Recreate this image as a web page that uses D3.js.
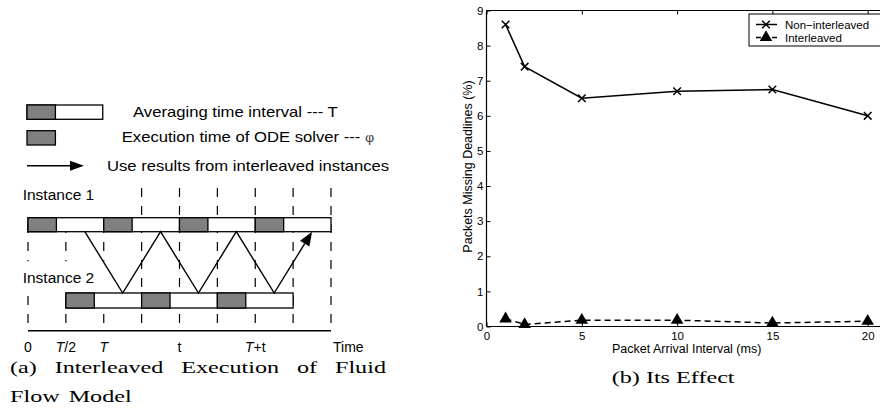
<!DOCTYPE html>
<html>
<head>
<meta charset="utf-8">
<script src="https://cdn.jsdelivr.net/npm/d3@7"></script>
<style>
body { margin: 0; background: #fff; }
svg { display: block; }
text { font-family: "Liberation Sans", Arial, Helvetica, sans-serif; }
text.cap { font-family: "Liberation Serif", "Times New Roman", serif; }
</style>
</head>
<body>
<script>
// ---- data for panel (b) ----
var intervals = [1, 2, 5, 10, 15, 20];
var nonInterleaved = [8.6, 7.4, 6.5, 6.7, 6.75, 6.0];
var interleaved = [0.22, 0.06, 0.18, 0.18, 0.10, 0.15];
var xTicks = [0, 5, 10, 15, 20];
var yTicks = [0, 1, 2, 3, 4, 5, 6, 7, 8, 9];
var seriesNames = ["Non\u2212interleaved", "Interleaved"];

// ---- data for panel (a), time measured in units of T/2 ----
var gridTimes = [0, 1, 2, 3, 4, 5, 6, 7, 8];
var labelTimes = [0, 1, 2, 4, 6, 8];
var labelItalic = ["", "T", "T", "", "T", ""];
var labelRest = ["0", "/2", "", "t", "+t", "Time"];
var instance1Runs = [0, 2, 4, 6];
var instance2Runs = [1, 3, 5];
var instanceSpan = [[0, 8], [1, 7]];
var execLength = 0.75;
var zigzagTimes = [1.5, 2.5, 3.5, 4.5, 5.5, 6.5, 7.5];
var legendLabels = ["Averaging time interval --- T", "Execution time of ODE solver --- ", "Use results from interleaved instances"];
var captionA = [["(a)", "Interleaved", "Execution", "of", "Fluid"], ["Flow", "Model"]];
var captionB = "(b) Its Effect";

function init() {
    var w = 880;
    var h = 417;
    var grey = "#808080";
    var svg = d3.select("body")
        .append("svg")
        .attr("width", w)
        .attr("height", h);
    svg.append("rect").attr("width", w).attr("height", h).attr("fill", "#fff");

    //helper: text squeezed wider like the reference
    function place(sel, x, y, sx) {
        return sel.attr("transform", "translate(" + x + "," + y + ") scale(" + sx + ",1)");
    }

    // ================= panel (a) =================
    var tx = d3.scaleLinear().domain([0, 8]).range([28, 331]);
    var barTop = [217.7, 293];
    var barH = [14, 15];
    var axisY = 330.7;
    var a = svg.append("g");

    //legend
    a.append("rect").attr("x", 27).attr("y", 105).attr("width", tx(2) - tx(0)).attr("height", 14.3)
        .attr("fill", "#fff").attr("stroke", "#000").attr("stroke-width", 1.3);
    a.append("rect").attr("x", 27).attr("y", 105).attr("width", tx(execLength) - tx(0)).attr("height", 14.3)
        .attr("fill", grey).attr("stroke", "#000").attr("stroke-width", 1.3);
    a.append("rect").attr("x", 27).attr("y", 130.7).attr("width", tx(execLength) - tx(0)).attr("height", 14.3)
        .attr("fill", grey).attr("stroke", "#000").attr("stroke-width", 1.3);
    a.append("line").attr("x1", 27).attr("x2", 72).attr("y1", 165.7).attr("y2", 165.7)
        .attr("stroke", "#000").attr("stroke-width", 1.4);
    a.append("path").attr("d", "M70,160.7L84,165.7L70,170.7Z").attr("fill", "#000");

    var lx = [133, 121.7, 107];
    var ly = [116.5, 141.7, 171];
    legendLabels.forEach(function (t, i) {
        var tt = place(a.append("text"), lx[i], ly[i], 1.19)
            .attr("font-size", 14).text(t);
        if (i == 1) {
            tt.append("tspan").attr("font-size", 12).attr("fill", "#444").text("\u03c6");
        }
    });

    //dashed time grid
    a.selectAll("line.grid")
        .data(gridTimes)
        .enter()
        .append("line")
        .attr("class", "grid")
        .attr("x1", function (d) { return tx(d); })
        .attr("x2", function (d) { return tx(d); })
        .attr("y1", 188)
        .attr("y2", axisY)
        .attr("stroke", "#000")
        .attr("stroke-width", 1.2)
        .attr("stroke-dasharray", "9,9");

    //instance labels with white backing
    var instY = [200, 283.3];
    var backH = [38, 27];
    instY.forEach(function (y, i) {
        a.append("rect").attr("x", 18).attr("y", y - 22).attr("width", 94).attr("height", backH[i]).attr("fill", "#fff");
        a.append("text").attr("x", 22.7).attr("y", y).attr("font-size", 15.5).text("Instance " + (i + 1));
    });

    //instance bars
    [instance1Runs, instance2Runs].forEach(function (runs, i) {
        a.append("rect")
            .attr("x", tx(instanceSpan[i][0]))
            .attr("y", barTop[i])
            .attr("width", tx(instanceSpan[i][1]) - tx(instanceSpan[i][0]))
            .attr("height", barH[i])
            .attr("fill", "#fff").attr("stroke", "#000").attr("stroke-width", 1.3);
        a.selectAll("line.div" + i)
            .data(runs.map(function (d) { return d + 2; }).filter(function (d) { return d < instanceSpan[i][1]; }))
            .enter()
            .append("line")
            .attr("x1", function (d) { return tx(d); })
            .attr("x2", function (d) { return tx(d); })
            .attr("y1", barTop[i]).attr("y2", barTop[i] + barH[i])
            .attr("stroke", "#000").attr("stroke-width", 1.3);
        a.selectAll("rect.run" + i)
            .data(runs)
            .enter()
            .append("rect")
            .attr("x", function (d) { return tx(d); })
            .attr("y", barTop[i])
            .attr("width", tx(execLength) - tx(0))
            .attr("height", barH[i])
            .attr("fill", grey).attr("stroke", "#000").attr("stroke-width", 1.3);
    });

    //zigzag of results passed between instances
    var upper = barTop[0] + barH[0];
    var lower = barTop[1];
    var zig = zigzagTimes.map(function (d, i) { return [tx(d), i % 2 == 0 ? upper : lower]; });
    var last = zig[zig.length - 1];
    var prev = zig[zig.length - 2];
    var ang = Math.atan2(last[1] - prev[1], last[0] - prev[0]);
    var headLen = 14;
    var base = [last[0] - headLen * Math.cos(ang), last[1] - headLen * Math.sin(ang)];
    var zigLine = zig.slice(0, -1).concat([base]);
    a.append("path")
        .attr("d", d3.line()(zigLine))
        .attr("fill", "none").attr("stroke", "#000").attr("stroke-width", 1.4);
    var px = -Math.sin(ang) * 5.5, py = Math.cos(ang) * 5.5;
    a.append("path")
        .attr("d", "M" + last + "L" + [base[0] + px, base[1] + py] + "L" + [base[0] - px, base[1] - py] + "Z")
        .attr("fill", "#000");

    //time axis
    a.append("line").attr("x1", tx(0)).attr("x2", tx(8)).attr("y1", axisY).attr("y2", axisY)
        .attr("stroke", "#000").attr("stroke-width", 1.4);
    labelTimes.forEach(function (t, i) {
        var isEnd = i == labelTimes.length - 1;
        var tt = a.append("text")
            .attr("x", isEnd ? tx(t) + 2 : tx(t))
            .attr("y", 351.7)
            .attr("font-size", 14)
            .attr("text-anchor", isEnd ? "start" : "middle");
        if (labelItalic[i]) tt.append("tspan").attr("font-style", "italic").text(labelItalic[i]);
        tt.append("tspan").text(labelRest[i]);
    });

    //caption (a), first line justified
    var capSx = 1.38;
    var line1 = captionA[0].map(function (word) {
        var t = a.append("text").attr("class", "cap").attr("font-size", 17.5).text(word);
        return { node: t, width: t.node().getComputedTextLength() * capSx };
    });
    var total = d3.sum(line1, function (d) { return d.width; });
    var gap = (386 - 10 - total) / (line1.length - 1);
    var cx = 10;
    line1.forEach(function (d) {
        place(d.node, cx, 373.3, capSx);
        cx += d.width + gap;
    });
    cx = 10;
    captionA[1].forEach(function (word) {
        var t = a.append("text").attr("class", "cap").attr("font-size", 17.5).text(word);
        place(t, cx, 401.7, capSx);
        cx += t.node().getComputedTextLength() * capSx + 9;
    });

    // ================= panel (b) =================
    var x = d3.scaleLinear().domain([0, 20]).range([486.5, 867.7]);
    var y = d3.scaleLinear().domain([0, 9]).range([326.5, 10.5]);
    var b = svg.append("g");

    //frame (runs off the right edge like the reference)
    b.append("line").attr("x1", x(0)).attr("x2", w).attr("y1", y(9)).attr("y2", y(9)).attr("stroke", "#000");
    b.append("line").attr("x1", x(0)).attr("x2", w).attr("y1", y(0)).attr("y2", y(0)).attr("stroke", "#000").attr("stroke-width", 1.2);
    b.append("line").attr("x1", x(0)).attr("x2", x(0)).attr("y1", y(0)).attr("y2", y(9)).attr("stroke", "#000").attr("stroke-width", 1.2);

    var xAxis = b.append("g")
        .attr("transform", "translate(0," + y(0) + ")")
        .call(d3.axisBottom(x).tickValues(xTicks).tickSize(-4).tickPadding(5).tickFormat(d3.format("d")));
    var topAxis = b.append("g")
        .attr("transform", "translate(0," + y(9) + ")")
        .call(d3.axisTop(x).tickValues(xTicks).tickSize(-4).tickFormat(""));
    var yAxis = b.append("g")
        .attr("transform", "translate(" + x(0) + ",0)")
        .call(d3.axisLeft(y).tickValues(yTicks).tickSize(-4).tickPadding(3).tickFormat(d3.format("d")));
    [xAxis, topAxis, yAxis].forEach(function (g) {
        g.select(".domain").remove();
        g.selectAll("text").attr("font-size", 11.5).attr("fill", "#000");
    });

    //axis titles
    b.append("text").attr("x", 686.7).attr("y", 353.3).attr("text-anchor", "middle")
        .attr("font-size", 12.5).text("Packet Arrival Interval (ms)");
    b.append("text").attr("transform", "translate(471.5,166.5) rotate(-90)").attr("text-anchor", "middle")
        .attr("font-size", 12.5).text("Packets Missing Deadlines (%)");

    //series
    var nonData = intervals.map(function (d, i) { return [d, nonInterleaved[i]]; });
    var intData = intervals.map(function (d, i) { return [d, interleaved[i]]; });
    var line = d3.line()
        .x(function (d) { return x(d[0]); })
        .y(function (d) { return y(d[1]); });
    b.append("path").attr("d", line(nonData)).attr("fill", "none").attr("stroke", "#000").attr("stroke-width", 1.5);
    b.append("path").attr("d", line(intData)).attr("fill", "none").attr("stroke", "#000").attr("stroke-width", 1.5)
        .attr("stroke-dasharray", "6,4");

    var cross = "M-3.8,-3.8L3.8,3.8M-3.8,3.8L3.8,-3.8";
    var tri = d3.symbol().type(d3.symbolTriangle).size(68);
    b.selectAll("path.cross")
        .data(nonData)
        .enter()
        .append("path")
        .attr("class", "cross")
        .attr("transform", function (d) { return "translate(" + x(d[0]) + "," + y(d[1]) + ")"; })
        .attr("d", cross)
        .attr("stroke", "#000").attr("stroke-width", 1.5);
    b.selectAll("path.tri")
        .data(intData)
        .enter()
        .append("path")
        .attr("class", "tri")
        .attr("transform", function (d) { return "translate(" + x(d[0]) + "," + y(d[1]) + ")"; })
        .attr("d", tri)
        .attr("fill", "#000");

    //legend
    var leg = b.append("g");
    leg.append("rect").attr("x", 749).attr("y", 14).attr("width", 140).attr("height", 32)
        .attr("fill", "#fff").attr("stroke", "#000").attr("stroke-width", 1);
    var legY = [24.5, 37.5];
    seriesNames.forEach(function (name, i) {
        leg.append("line").attr("x1", 756).attr("x2", 777).attr("y1", legY[i]).attr("y2", legY[i])
            .attr("stroke", "#000").attr("stroke-width", 1.5)
            .attr("stroke-dasharray", i == 1 ? "5,3" : null);
        leg.append("path")
            .attr("transform", "translate(766," + legY[i] + ")")
            .attr("d", i == 0 ? cross : tri)
            .attr("stroke", i == 0 ? "#000" : null)
            .attr("stroke-width", 1.5)
            .attr("fill", i == 0 ? "none" : "#000");
        leg.append("text").attr("x", 785).attr("y", legY[i] + 4).attr("font-size", 11.5).text(name);
    });

    //caption (b)
    var cb = b.append("text").attr("class", "cap").attr("font-size", 17.5).text(captionB);
    place(cb, 611.7, 383.3, capSx);
}
window.onload = init;
</script>
</body>
</html>
